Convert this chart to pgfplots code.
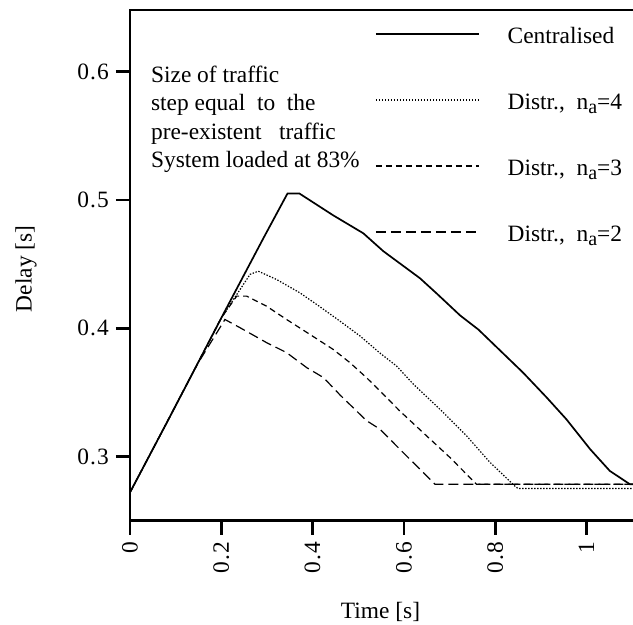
\documentclass[border=0pt]{standalone}
\usepackage{fontspec}
\setmainfont{Liberation Serif}
\usepackage{pgfplots}
\pgfplotsset{compat=1.18}
\newcommand{\sub}[1]{\raisebox{-0.4ex}{\fontsize{10}{10}\selectfont #1}}
\begin{document}
\begin{tikzpicture}[font=\fontsize{11.7}{14}\selectfont]
\path[use as bounding box] (-65pt,-52.15pt) rectangle (251.5pt,260.35pt);
\begin{axis}[
  at={(0,0)}, anchor=south west,
  scale only axis, width=255.65pt, height=255.35pt,
  xmin=0, xmax=1.12, ymin=0.25, ymax=0.648,
  axis line style={line width=1.35pt},
  every tick/.style={line width=1.35pt, black},
  major tick length=7pt, tick align=outside, tick pos=left,
  xtick={0,0.2,0.4,0.6,0.8,1},
  xticklabels={0, 0\kern.6pt.\kern.6pt2, 0\kern.6pt.\kern.6pt4, 0\kern.6pt.\kern.6pt6, 0\kern.6pt.\kern.6pt8, 1},
  xticklabel style={rotate=90, anchor=east},
  ytick={0.3,0.4,0.5,0.6},
  yticklabels={0\kern.6pt.\kern.6pt3, 0\kern.6pt.\kern.6pt4, 0\kern.6pt.\kern.6pt5, 0\kern.6pt.\kern.6pt6},
  xlabel={Time [s]}, ylabel={Delay [s]},
  xlabel style={at={(axis description cs:0.49,-0.179)}, anchor=center},
  ylabel style={at={(axis description cs:-0.2033,0.4929)}, anchor=center},
  legend style={at={(axis cs:0.5367,0.6345)}, anchor=north west, draw=none, fill=none,
    inner sep=0pt, outer sep=0pt, row sep=22pt,
    nodes={inner sep=0pt, text height=8pt, text depth=3pt},
    /tikz/every odd column/.append style={column sep=14pt}},
  legend cell align=left,
  legend image code/.code={\draw[#1] (0pt,2.2pt) -- (51.5pt,2.2pt);},
]
\addplot[black, line width=0.85pt] coordinates {
(0,0.272) (0.08,0.326) (0.146,0.371) (0.2,0.408) (0.292,0.470) (0.345,0.505) (0.371,0.505)
(0.445,0.488) (0.511,0.474) (0.555,0.460) (0.635,0.439) (0.672,0.427) (0.723,0.410)
(0.763,0.399) (0.861,0.3654) (0.913,0.3459) (0.956,0.329) (1.008,0.3057) (1.051,0.2888)
(1.095,0.2784) (1.12,0.2784)};
\addlegendentry{Centralised}
\addplot[black, line width=0.6pt, dash pattern=on 0.7pt off 0.8pt] coordinates {
(0,0.272) (0.08,0.326) (0.146,0.371) (0.2,0.408) (0.263,0.442) (0.281,0.4444) (0.321,0.438)
(0.372,0.4276) (0.409,0.4185) (0.460,0.4055) (0.504,0.3939) (0.548,0.3805) (0.584,0.3705)
(0.621,0.3563) (0.679,0.3368) (0.7375,0.316) (0.789,0.2953) (0.843,0.277) (0.85,0.2751) (1.12,0.2751)};
\addlegendentry{Distr.,\ \ n\sub{a}=4}
\addplot[black, line width=0.6pt, dash pattern=on 3pt off 2pt] coordinates {
(0,0.272) (0.08,0.326) (0.146,0.371) (0.2,0.408) (0.2337,0.425) (0.2556,0.425) (0.299,0.4172)
(0.343,0.4068) (0.394,0.3952) (0.445,0.3835) (0.482,0.3731) (0.518,0.3615) (0.548,0.351)
(0.591,0.3355) (0.650,0.316) (0.701,0.2992) (0.759,0.2784) (1.12,0.2784)};
\addlegendentry{Distr.,\ \ n\sub{a}=3}
\addplot[black, line width=0.6pt, dash pattern=on 5pt off 2.5pt] coordinates {
(0,0.272) (0.08,0.326) (0.146,0.371) (0.208,0.4068) (0.241,0.4004) (0.2995,0.3887)
(0.343,0.381) (0.387,0.3693) (0.424,0.3615) (0.46,0.348) (0.518,0.328) (0.548,0.3212)
(0.591,0.3057) (0.6425,0.2875) (0.668,0.2784) (1.12,0.2784)};
\addlegendentry{Distr.,\ \ n\sub{a}=2}
\end{axis}
\node[anchor=north west, align=left, inner sep=0pt, font=\fontsize{11.7}{14.25}\selectfont]
  at (10.35pt,227.7pt) {Size of traffic\\ step equal\ \ to\ \ the\\ pre-existent\ \ \ traffic\\ System loaded at 83\%};
\end{tikzpicture}
\end{document}
